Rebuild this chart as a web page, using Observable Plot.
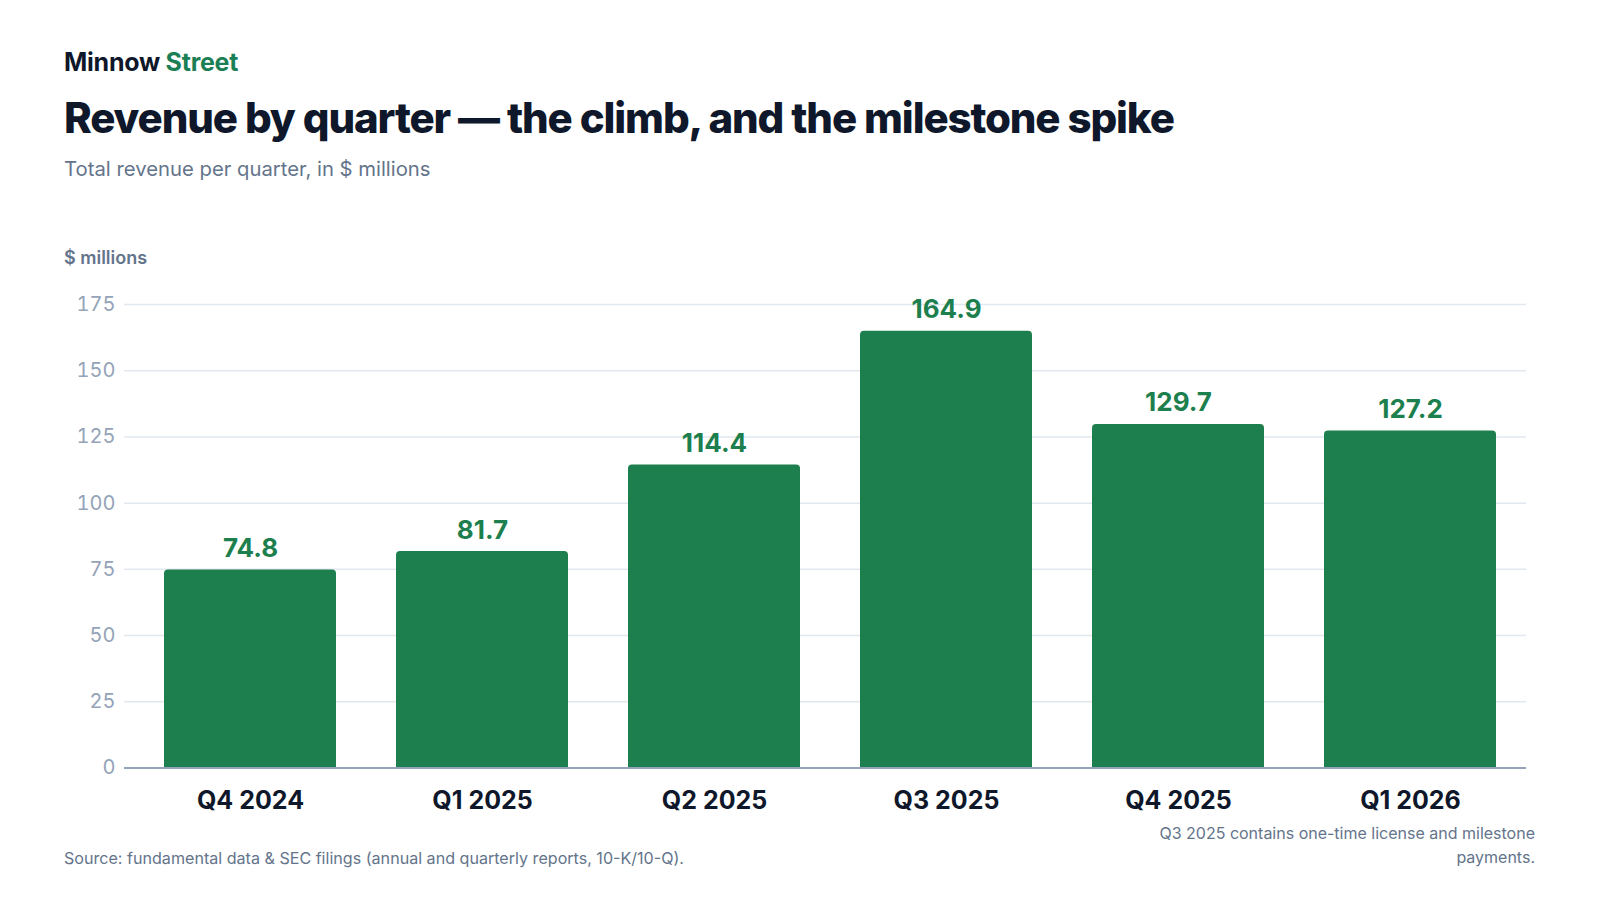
<!DOCTYPE html>
<html>
<head>
<meta charset="utf-8">
<script src="https://cdn.jsdelivr.net/npm/d3@7"></script>
<script src="https://cdn.jsdelivr.net/npm/@observablehq/plot@0.6"></script>
<style>
  html, body { margin: 0; padding: 0; background: #ffffff; }
  body { width: 1600px; height: 900px; position: relative; overflow: hidden; font-family: Inter, "Noto Sans", sans-serif; }
  .abs { position: absolute; white-space: nowrap; }
  #brand { left: 64px; top: 50px; font-size: 25px; font-weight: 700; color: #0f172a; letter-spacing: -0.01em; line-height: 1; }
  #brand span { color: #1a7f55; }
  #title { left: 64px; top: 97px; font-size: 42px; font-weight: 800; color: #0f172a; letter-spacing: -0.027em; line-height: 1; }
  #subtitle { left: 64px; top: 159px; font-size: 20.3px; font-weight: 400; color: #64748b; line-height: 1; }
  #ylabel { left: 64px; top: 249px; font-size: 18px; font-weight: 600; color: #64748b; line-height: 1; }
  #chart { position: absolute; left: 0; top: 280px; }
  #source { left: 64px; top: 850px; font-size: 16.1px; color: #64748b; line-height: 1; }
  #note { right: 65px; top: 821px; font-size: 16px; color: #64748b; line-height: 24px; text-align: right; }
</style>
</head>
<body>
<div id="brand" class="abs">Minnow <span>Street</span></div>
<div id="title" class="abs">Revenue by quarter — the climb, and the milestone spike</div>
<div id="subtitle" class="abs">Total revenue per quarter, in $ millions</div>
<div id="ylabel" class="abs">$ millions</div>
<div id="chart"></div>
<div id="source" class="abs">Source: fundamental data &amp; SEC filings (annual and quarterly reports, 10-K/10-Q).</div>
<div id="note" class="abs">Q3 2025 contains one-time license and milestone<br>payments.</div>
<script>
const quarters = ["Q4 2024", "Q1 2025", "Q2 2025", "Q3 2025", "Q4 2025", "Q1 2026"];
const revenue = [74.8, 81.7, 114.4, 164.9, 129.7, 127.2];
const yTicks = [0, 25, 50, 75, 100, 125, 150, 175];

const data = quarters.map((q, i) => ({quarter: q, value: revenue[i]}));
const green = "#1d7f4e";

const chart = Plot.plot({
  width: 1600,
  height: 560,
  marginLeft: 124,
  marginRight: 74,
  marginTop: 24,
  marginBottom: 72.5,
  style: {fontFamily: "Inter, 'Noto Sans', sans-serif", background: "transparent"},
  x: {domain: quarters, paddingInner: 0.26, paddingOuter: 0, insetLeft: 39.5, insetRight: 29, label: null},
  y: {domain: [0, 175], label: null},
  marks: [
    Plot.gridY(yTicks, {stroke: "#e2e8f0", strokeOpacity: 1, strokeWidth: 1.5}),
    Plot.barY(data, {x: "quarter", y: "value", fill: green, rx: 4}),
    Plot.barY(data, {x: "quarter", y: d => d.value / 2, fill: green}),
    Plot.ruleY([0], {stroke: "#94a3b8", strokeWidth: 2}),
    Plot.text(data, {x: "quarter", y: "value", text: d => d.value.toFixed(1), lineAnchor: "bottom", dy: -13, fill: green, fontSize: 26, fontWeight: 700}),
    Plot.axisY(yTicks, {tickSize: 0, tickPadding: 9, fontSize: 20, fill: "#94a3b8", label: null, tickFormat: d => String(d)}),
    Plot.axisX({tickSize: 0, tickPadding: 23, fontSize: 25, fontWeight: 700, fill: "#0f172a", label: null})
  ]
});
document.getElementById("chart").appendChild(chart);
</script>
</body>
</html>
